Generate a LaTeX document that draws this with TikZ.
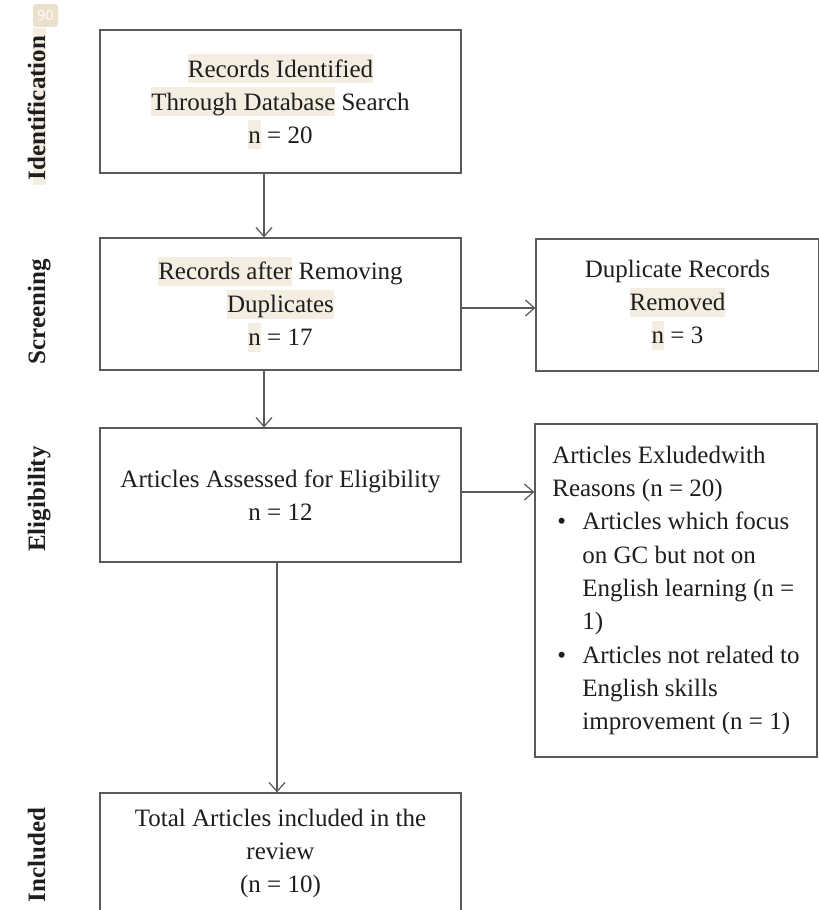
\documentclass[tikz,border=0pt]{standalone}
\usepackage{fontspec}
\setmainfont{Liberation Serif}
\newfontfamily\badgefont{Open Sans}
\usetikzlibrary{arrows.meta}
\definecolor{hlc}{HTML}{F3EDE2}
\definecolor{badgec}{HTML}{EBE0CC}
\definecolor{linec}{HTML}{5A5A5A}
\definecolor{txtc}{HTML}{1E1E1E}
\newcommand\hl[1]{{\setlength{\fboxsep}{0pt}\colorbox{hlc}{\rule[-6pt]{0pt}{29pt}#1}}}
\newcommand\itm{\makebox[30pt][l]{\hspace{5pt}\textbullet}}
\newcommand\ind{\hspace*{30pt}}
\begin{document}
\begin{tikzpicture}[x=1pt,y=-1pt,
  box/.style={draw=linec, line width=1.3pt, inner sep=0pt, align=center, text=txtc, font=\fontsize{25}{33}\selectfont},
  side/.style={rotate=90, anchor=base, font=\fontsize{25}{30}\selectfont\bfseries, text=txtc},
  arr/.style={-{Straight Barb[length=9pt,width=16pt]}, line width=1.2pt, draw=linec}]
\useasboundingbox (0,0) rectangle (819,910);
\clip (0,0) rectangle (819,910);
\fill[white] (0,0) rectangle (819,910);

% highlight strip and badge
\fill[hlc] (33,28) rectangle (46,185);
\node[fill=badgec, rounded corners=3pt, minimum width=25pt, minimum height=23pt, inner sep=0pt, text=white, font=\badgefont\fontsize{14}{14}\selectfont] (badge) at (45.5,15.5) {90};

% side labels
\node[side] (lid) at (45,108) {Identification};
\node[side] (lsc) at (45,311.5) {Screening};
\node[side] (lel) at (45,499) {Eligibility};
\node[side] (lin) at (45,855) {Included};

% boxes
\node[box, minimum width=361pt, minimum height=143pt] (b1) at (280.5,101.5)
  {\hl{Records Identified}\\\hl{Through Database} Search\\\hl{n} = 20};
\node[box, minimum width=361pt, minimum height=132pt] (b2) at (280.5,304)
  {\hl{Records after} Removing\\\hl{Duplicates}\\\hl{n} = 17};
\node[box, minimum width=283pt, minimum height=132pt] (b3) at (677.5,305)
  {Duplicate Records\\\hl{Removed}\\\hl{n} = 3};
\node[box, minimum width=361pt, minimum height=134pt] (b4) at (280.5,495)
  {Articles Assessed for Eligibility\\n = 12};
\node[box, minimum width=282pt, minimum height=333pt, align=left, font=\fontsize{25}{33.3}\selectfont] (b5) at (676,590.5)
  {Articles Exludedwith\\Reasons (n = 20)\\\itm Articles which focus\\\ind on GC but not on\\\ind English learning (n =\\\ind 1)\\\itm Articles not related to\\\ind English skills\\\ind improvement (n = 1)};
\node[box, minimum width=361pt, minimum height=120pt] (b6) at (280.5,853)
  {Total Articles included in the\\review\\(n = 10)};

% connectors
\coordinate (c1) at (264,0);
\coordinate (c2) at (277,0);
\coordinate (r1) at (0,308);
\coordinate (r2) at (0,492);
\draw[arr] (b1.south -| c1) -- (b2.north -| c1);
\draw[arr] (b2.south -| c1) -- (b4.north -| c1);
\draw[arr] (b4.south -| c2) -- (b6.north -| c2);
\draw[arr] (b2.east |- r1) -- (b3.west |- r1);
\draw[arr] (b4.east |- r2) -- (b5.west |- r2);
\end{tikzpicture}
\end{document}
